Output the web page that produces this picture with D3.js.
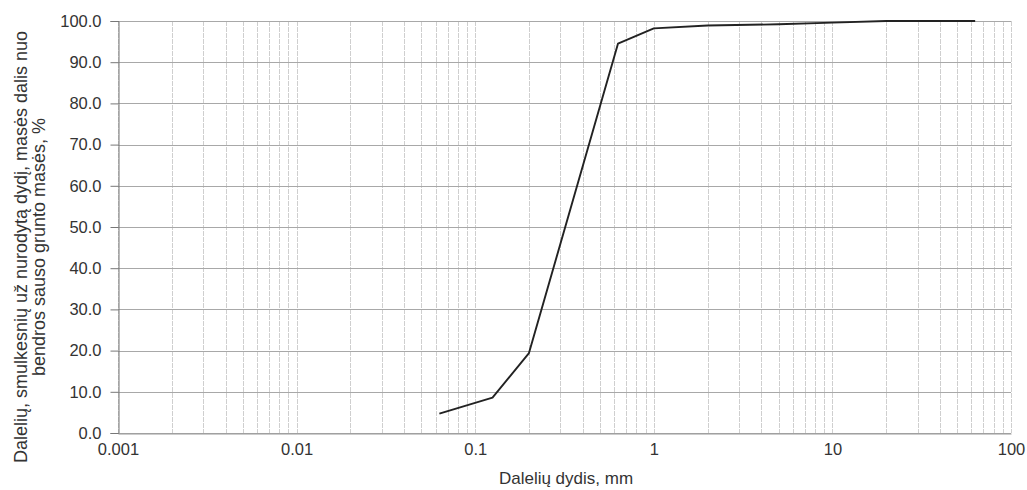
<!DOCTYPE html>
<html><head><meta charset="utf-8">
<script src="https://cdn.jsdelivr.net/npm/d3@7"></script>
<style>body{margin:0;background:#fff}svg text{font-family:"Liberation Sans",Arial,sans-serif;fill:#333}</style>
</head><body><svg id="c" width="1027" height="490"></svg>
<script>
const sizes = [0.063, 0.125, 0.2, 0.63, 1, 2, 5, 10, 20, 63];
const passing = [4.7, 8.6, 19.4, 94.5, 98.2, 98.9, 99.2, 99.6, 100, 100];
const xTicks = [0.001, 0.01, 0.1, 1, 10, 100];
const xTickLabels = ["0.001", "0.01", "0.1", "1", "10", "100"];
const yTicks = [0,10,20,30,40,50,60,70,80,90,100];
const xTitle = "Dalelių dydis, mm";
const yTitle = ["Dalelių, smulkesnių už nurodytą dydį, masės dalis nuo", "bendros sauso grunto masės, %"];

const svg = d3.select("#c");
const L = 118, R = 1011, T = 21, B = 433;
const x = d3.scaleLog().domain([0.001, 100]).range([L, R]);
const y = d3.scaleLinear().domain([0, 100]).range([B, T]);

// minor vertical grid
const minor = [];
for (let e = -3; e < 2; e++) for (let m = 1; m <= 9; m++) minor.push(m * Math.pow(10, e));
minor.push(100);
svg.append("g").selectAll("line").data(minor).join("line")
  .attr("x1", d => Math.round(x(d)) + 0.5).attr("x2", d => Math.round(x(d)) + 0.5)
  .attr("y1", T).attr("y2", B)
  .attr("stroke", "#cfcfcf").attr("stroke-width", 1)
  .attr("stroke-dasharray", "5,1");
// horizontal grid
svg.append("g").selectAll("line").data(yTicks).join("line")
  .attr("x1", L).attr("x2", R)
  .attr("y1", d => Math.round(y(d)) + 0.5).attr("y2", d => Math.round(y(d)) + 0.5)
  .attr("stroke", "#a8a8a8").attr("stroke-width", 1.2);

// y axis
const ya = svg.append("g").attr("transform", `translate(${L + 0.5},0)`)
  .call(d3.axisLeft(y).tickValues(yTicks).tickFormat(d3.format(".1f")).tickSize(8).tickPadding(9));
ya.select(".domain").attr("stroke", "#777");
ya.selectAll(".tick line").attr("stroke", "#777");
ya.selectAll("text").attr("font-size", 16.5).attr("fill", "#333").attr("font-family", "Liberation Sans, Arial, sans-serif");

// x axis
const xa = svg.append("g").attr("transform", `translate(0,${B + 0.5})`)
  .call(d3.axisBottom(x).tickValues(xTicks).tickFormat((d, i) => xTickLabels[i]).tickSize(0).tickPadding(10));
xa.select(".domain").attr("stroke", "#999");
xa.selectAll("text").attr("font-size", 16.5).attr("fill", "#333").attr("font-family", "Liberation Sans, Arial, sans-serif");

// curve
svg.append("path").datum(sizes.map((s, i) => [s, passing[i]]))
  .attr("fill", "none").attr("stroke", "#222").attr("stroke-width", 1.9)
  .attr("stroke-linejoin", "round")
  .attr("d", d3.line().x(d => x(d[0])).y(d => y(d[1])));

// titles
svg.append("text").attr("x", 566).attr("y", 484).attr("text-anchor", "middle")
  .attr("font-size", 17).text(xTitle);
const yt = svg.append("text").attr("transform", "translate(27,247) rotate(-90)")
  .attr("text-anchor", "middle").attr("font-size", 18);
yt.append("tspan").attr("x", 0).attr("dy", 0).text(yTitle[0]);
yt.append("tspan").attr("x", 0).attr("dy", 18).text(yTitle[1]);
</script></body></html>
